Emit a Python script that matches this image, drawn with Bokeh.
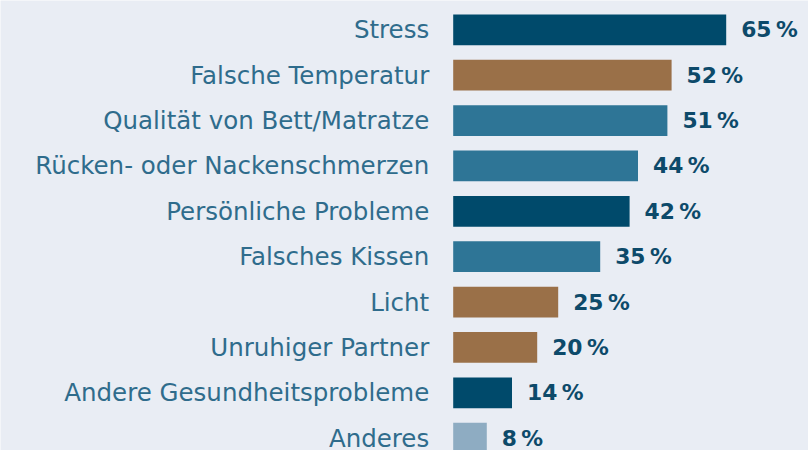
from bokeh.plotting import figure
from bokeh.models import Range1d, ColumnDataSource
from bokeh.core.properties import value
from bokeh.embed import file_html
from bokeh.resources import INLINE

categories = ["Stress", "Falsche Temperatur", "Qualität von Bett/Matratze",
              "Rücken- oder Nackenschmerzen", "Persönliche Probleme", "Falsches Kissen",
              "Licht", "Unruhiger Partner", "Andere Gesundheitsprobleme", "Anderes"]
values = [65, 52, 51, 44, 42, 35, 25, 20, 14, 8]
colors = ["#004a6b", "#9a7048", "#2e7596", "#2e7596", "#004a6b", "#2e7596",
          "#9a7048", "#9a7048", "#004a6b", "#8eacc2"]

BG = "#e9edf4"
W, H = 808, 450
X0 = 452.7      # pixel where bars start
PX = 4.2        # pixels per percent
ROW = 45.375    # row pitch in pixels
TOP = 29.3      # centre of first row in pixels

pos = list(range(len(categories)))
src = ColumnDataSource(dict(
    y=pos, v=values, c=colors, cat=categories,
    lab=[f"{v}\u2009%" for v in values],
))

p = figure(width=W, height=H, output_backend="svg", toolbar_location=None,
           x_range=Range1d(-X0 / PX, (W - X0) / PX),
           y_range=Range1d(len(categories) - 1 + (H - TOP - (len(categories) - 1) * ROW) / ROW,
                           -TOP / ROW),
           min_border=0, outline_line_color=None,
           background_fill_color=BG, border_fill_color=BG)
p.axis.visible = False
p.grid.visible = False

p.hbar(y="y", left=0, right="v", height=0.677, color="c", line_color=None, source=src)
p.text(x=0, y="y", text="cat", x_offset=-24, text_align="right", text_baseline="middle",
       text_font=value("DejaVu Sans"), text_font_size="24.5px", text_color="#2f6c8c", source=src)
p.text(x="v", y="y", text="lab", x_offset=15, text_align="left", text_baseline="middle",
       text_font=value("DejaVu Sans"), text_font_size="21.8px", text_font_style="bold",
       text_color="#0d4a6a", source=src)

html = file_html(p, INLINE)
html = html.replace("<body>", f'<body style="margin:0;overflow:hidden;background:{BG}">', 1)
open("out.html", "w").write(html)
